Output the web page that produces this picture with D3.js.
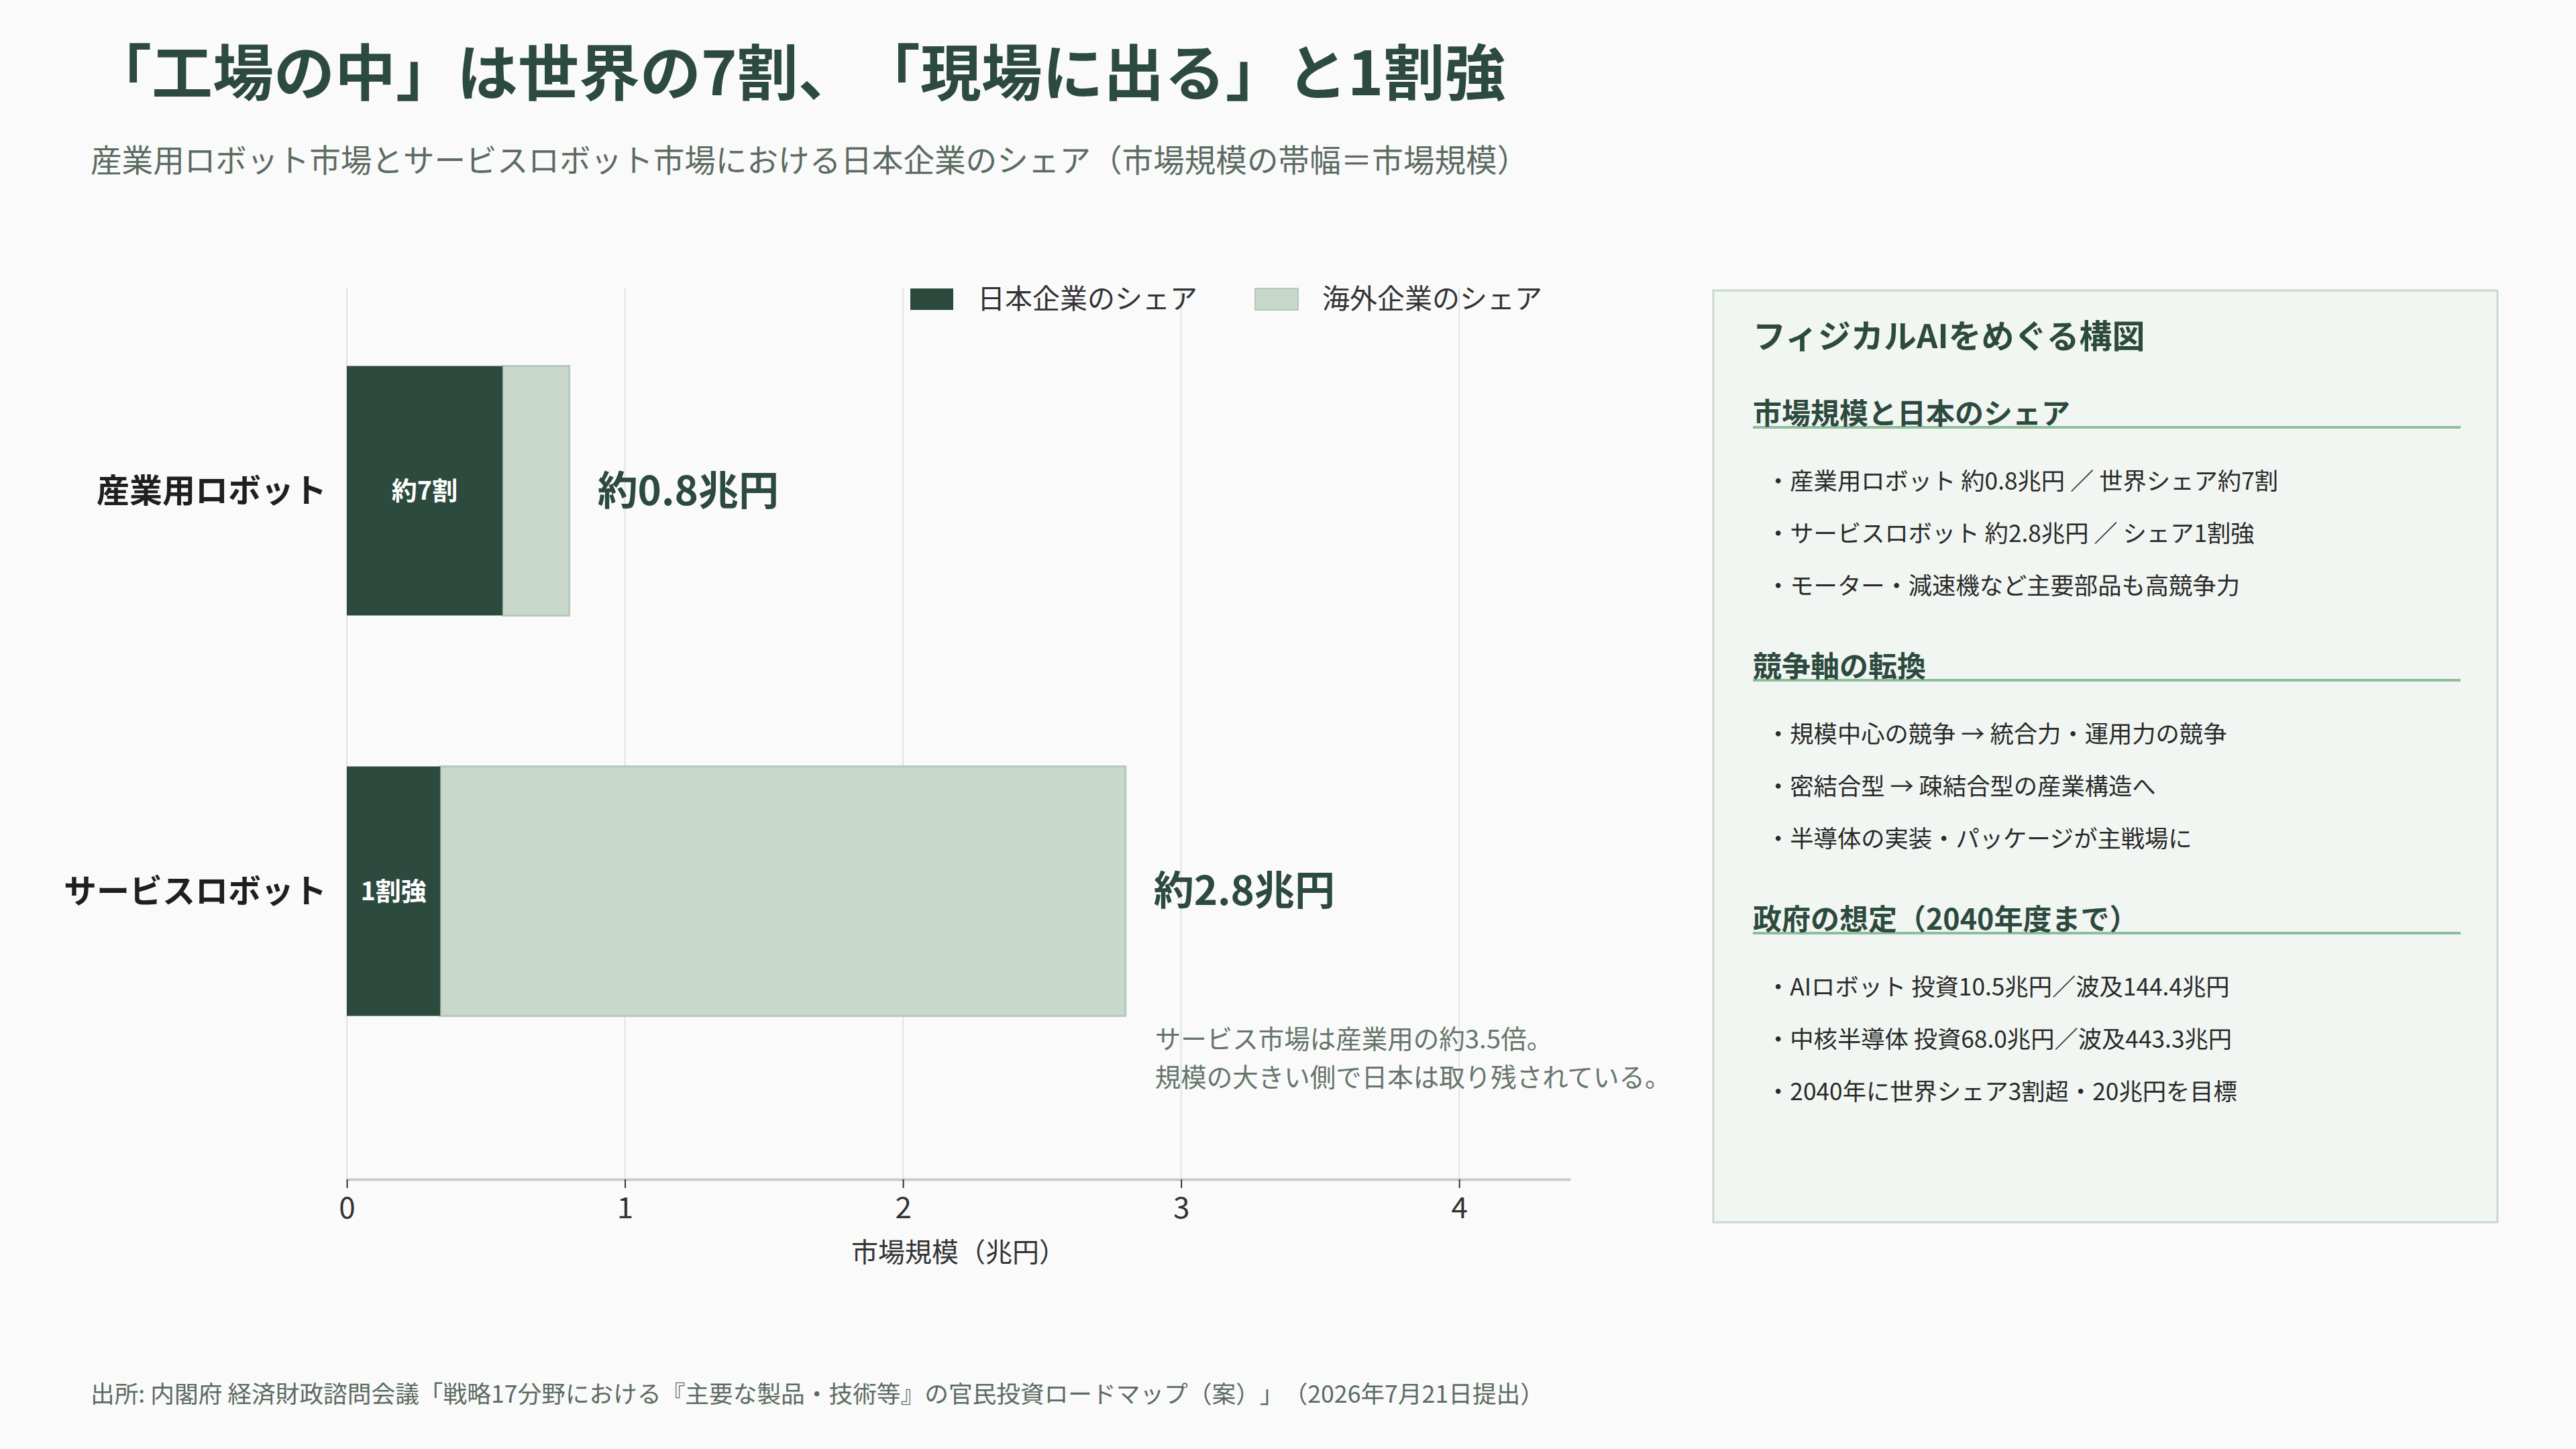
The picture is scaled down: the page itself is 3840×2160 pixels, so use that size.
<!DOCTYPE html>
<html>
<head>
<meta charset="utf-8">
<script src="https://cdn.jsdelivr.net/npm/d3@7"></script>
<style>
  html, body { margin: 0; padding: 0; background: #fafafa; }
  svg { display: block; font-family: "Noto Sans CJK JP", "Noto Sans", sans-serif; text-spacing-trim: space-all; }
</style>
</head>
<body>
<div class="js-chart"></div>
<script>
// chart data
const categories = ["産業用ロボット", "サービスロボット"];
const marketSize = [0.8, 2.8];          // 兆円
const japanShare = [0.7, 0.12];         // 日本企業のシェア
const shareLabels = ["約7割", "1割強"];
const sizeLabels = ["約0.8兆円", "約2.8兆円"];
const xTicks = [0, 1, 2, 3, 4];
const legendLabels = ["日本企業のシェア", "海外企業のシェア"];
const noteLines = ["サービス市場は産業用の約3.5倍。", "規模の大きい側で日本は取り残されている。"];

// side panel text
const panelTitle = "フィジカルAIをめぐる構図";
const sectionTitles = ["市場規模と日本のシェア", "競争軸の転換", "政府の想定（2040年度まで）"];
const sectionItems = [
  ["・産業用ロボット 約0.8兆円 ／ 世界シェア約7割", "・サービスロボット 約2.8兆円 ／ シェア1割強", "・モーター・減速機など主要部品も高競争力"],
  ["・規模中心の競争 → 統合力・運用力の競争", "・密結合型 → 疎結合型の産業構造へ", "・半導体の実装・パッケージが主戦場に"],
  ["・AIロボット 投資10.5兆円／波及144.4兆円", "・中核半導体 投資68.0兆円／波及443.3兆円", "・2040年に世界シェア3割超・20兆円を目標"]
];

const title = "「工場の中」は世界の7割、「現場に出る」と1割強";
const subtitle = "産業用ロボット市場とサービスロボット市場における日本企業のシェア（市場規模の帯幅＝市場規模）";
const source = "出所: 内閣府 経済財政諮問会議「戦略17分野における『主要な製品・技術等』の官民投資ロードマップ（案）」（2026年7月21日提出）";

const width = 3840
    , height = 2160
    , dark = "#2d4a3e"
    , light = "#c8d8cb"
    , lightStroke = "#b5c8b9"
    ;

const rows = categories.map((c, i) => ({
  name: c,
  total: marketSize[i],
  japan: marketSize[i] * japanShare[i],
  shareLabel: shareLabels[i],
  sizeLabel: sizeLabels[i]
}));

const svg = d3.select(".js-chart")
  .append("svg")
  .attr("width", width)
  .attr("height", height);

// headings
svg.append("text")
  .attr("x", 135)
  .attr("y", 110)
  .attr("dy", "0.35em")
  .attr("font-size", 91)
  .attr("font-weight", 700)
  .attr("fill", dark)
  .text(title);

svg.append("text")
  .attr("x", 135)
  .attr("y", 240)
  .attr("dy", "0.35em")
  .attr("font-size", 46.6)
  .attr("fill", "#5b6b61")
  .text(subtitle);

// scales
const plotLeft = 517
    , plotRight = 2341
    , plotTop = 429
    , plotBottom = 1758
    ;

const x = d3.scaleLinear()
  .domain([0, 4.4])
  .range([plotLeft, plotRight]);

const y = d3.scaleBand()
  .domain(categories)
  .range([302, plotBottom])
  .paddingInner(0.377)
  .paddingOuter(0.408);

// grid
svg.append("g")
  .selectAll("line")
  .data(xTicks)
  .join("line")
  .attr("x1", d => x(d))
  .attr("x2", d => x(d))
  .attr("y1", plotTop)
  .attr("y2", plotBottom)
  .attr("stroke", "#e0e4e1")
  .attr("stroke-width", 2);

// bars
const barG = svg.append("g")
  .selectAll("g")
  .data(rows)
  .join("g");

barG.append("rect")
  .attr("x", d => x(d.japan))
  .attr("y", d => y(d.name))
  .attr("width", d => x(d.total) - x(d.japan))
  .attr("height", y.bandwidth())
  .attr("fill", light)
  .attr("stroke", lightStroke)
  .attr("stroke-width", 3);

barG.append("rect")
  .attr("x", x(0))
  .attr("y", d => y(d.name))
  .attr("width", d => x(d.japan) - x(0))
  .attr("height", y.bandwidth())
  .attr("fill", dark);

barG.append("text")
  .attr("x", d => (x(0) + x(d.japan)) / 2)
  .attr("y", d => y(d.name) + y.bandwidth() / 2)
  .attr("dy", "0.35em")
  .attr("text-anchor", "middle")
  .attr("font-size", 38)
  .attr("font-weight", 700)
  .attr("fill", "#fff")
  .text(d => d.shareLabel);

barG.append("text")
  .attr("x", d => x(d.total) + 42)
  .attr("y", d => y(d.name) + y.bandwidth() / 2)
  .attr("dy", "0.35em")
  .attr("font-size", 60)
  .attr("font-weight", 700)
  .attr("fill", dark)
  .text(d => d.sizeLabel);

barG.append("text")
  .attr("x", plotLeft - 30)
  .attr("y", d => y(d.name) + y.bandwidth() / 2)
  .attr("dy", "0.35em")
  .attr("text-anchor", "end")
  .attr("font-size", 49)
  .attr("font-weight", 700)
  .attr("fill", "#1f1f1f")
  .text(d => d.name);

// note under the service bar
const last = rows[rows.length - 1];
svg.append("g")
  .selectAll("text")
  .data(noteLines)
  .join("text")
  .attr("x", x(last.total) + 44)
  .attr("y", (d, i) => 1550 + i * 57)
  .attr("dy", "0.35em")
  .attr("font-size", 38.5)
  .attr("fill", "#66756b")
  .text(d => d);

// axis
const xAxis = svg.append("g")
  .attr("transform", `translate(0,${plotBottom})`)
  .call(d3.axisBottom(x)
    .tickValues(xTicks)
    .tickFormat(d3.format("d"))
    .tickSize(13)
    .tickPadding(14)
    .tickSizeOuter(0));

xAxis.select(".domain")
  .attr("stroke", "#c3cfc6")
  .attr("stroke-width", 4);

xAxis.selectAll(".tick line")
  .attr("stroke", "#333")
  .attr("stroke-width", 2);

xAxis.selectAll(".tick text")
  .attr("font-size", 44)
  .attr("font-family", "\"Noto Sans CJK JP\", sans-serif")
  .attr("fill", "#333");

svg.append("text")
  .attr("x", x(2.2))
  .attr("y", 1867)
  .attr("dy", "0.35em")
  .attr("text-anchor", "middle")
  .attr("font-size", 40)
  .attr("fill", "#333")
  .text("市場規模（兆円）");

// legend
const legendX = [1357, 1871];
const legend = svg.append("g")
  .selectAll("g")
  .data(legendLabels)
  .join("g")
  .attr("transform", (d, i) => `translate(${legendX[i]},446)`);

legend.append("rect")
  .attr("x", 0)
  .attr("y", -16)
  .attr("width", 64)
  .attr("height", 32)
  .attr("fill", (d, i) => i == 0 ? dark : light)
  .attr("stroke", (d, i) => i == 0 ? null : lightStroke)
  .attr("stroke-width", 2);

legend.append("text")
  .attr("x", 100)
  .attr("dy", "0.35em")
  .attr("font-size", 41)
  .attr("fill", "#333")
  .text(d => d);

// side panel
const panel = { x: 2554, y: 433, w: 1169, h: 1389 };

svg.append("rect")
  .attr("x", panel.x)
  .attr("y", panel.y)
  .attr("width", panel.w)
  .attr("height", panel.h)
  .attr("fill", "#f1f6f2")
  .attr("stroke", "#c9d8cc")
  .attr("stroke-width", 3);

svg.append("text")
  .attr("x", panel.x + 59)
  .attr("y", 502)
  .attr("dy", "0.35em")
  .attr("font-size", 49)
  .attr("font-weight", 700)
  .attr("fill", dark)
  .text(panelTitle);

const sectionY = [617, 994, 1371];

const section = svg.append("g")
  .selectAll("g")
  .data(sectionTitles)
  .join("g")
  .attr("transform", (d, i) => `translate(${panel.x + 59},${sectionY[i]})`);

section.append("line")
  .attr("x1", 0)
  .attr("x2", 1055)
  .attr("y1", 20)
  .attr("y2", 20)
  .attr("stroke", "#8fbe9a")
  .attr("stroke-width", 4);

section.append("text")
  .attr("dy", "0.35em")
  .attr("font-size", 43)
  .attr("font-weight", 700)
  .attr("fill", dark)
  .text(d => d);

section.selectAll(".item")
  .data((d, i) => sectionItems[i])
  .join("text")
  .attr("class", "item")
  .attr("x", 20)
  .attr("y", (d, i) => 101 + i * 78)
  .attr("dy", "0.35em")
  .attr("font-size", 35.3)
  .attr("fill", "#2a2a2a")
  .text(d => d);

// footer
svg.append("text")
  .attr("x", 135)
  .attr("y", 2079)
  .attr("dy", "0.35em")
  .attr("font-size", 35.7)
  .attr("fill", "#5b6b61")
  .text(source);
</script>
</body>
</html>
